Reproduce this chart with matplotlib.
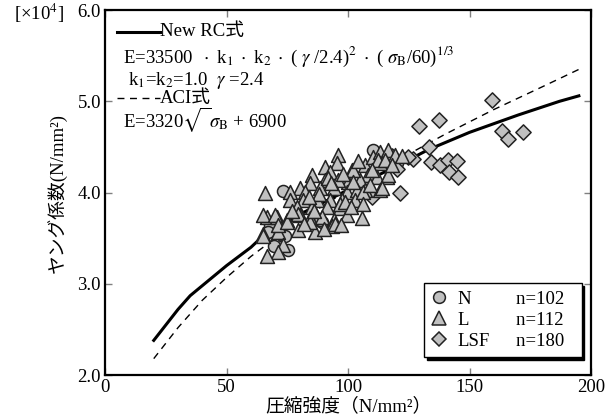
import matplotlib
matplotlib.use("Agg")
import matplotlib.pyplot as plt
from matplotlib.lines import Line2D

plt.rcParams['font.family'] = ['Liberation Serif', 'Noto Sans CJK JP']
plt.rcParams['mathtext.fontset'] = 'stix'
plt.rcParams['font.size'] = 13.5

# design curves (unit: x10^4 N/mm2)
newrc_x = [20, 30, 35, 40, 50, 60, 64, 70, 80, 100, 120, 133, 150, 170, 187, 195]
newrc_y = [2.38, 2.72, 2.87, 2.98, 3.20, 3.40, 3.50, 3.60, 3.76, 4.03, 4.29, 4.47, 4.66, 4.85, 5.00, 5.06]
aci_x = [20, 30, 40, 50, 60, 70, 80, 100, 120, 140, 160, 180, 195]
aci_y = [2.18, 2.52, 2.82, 3.07, 3.30, 3.50, 3.69, 4.03, 4.35, 4.64, 4.91, 5.16, 5.35]

# N series (circles)
n_x = [73.4, 110.4, 72.0, 67.9, 73.4, 89.2, 67.2, 74.1, 69.3, 75.4, 120.0, 88.5]
n_y = [4.02, 4.47, 3.57, 3.64, 3.52, 3.68, 3.57, 3.52, 3.41, 3.37, 4.32, 3.70]

# LSF series (diamonds)
lsf_x = [159.4, 129.2, 137.3, 133.5, 126.9, 134.0, 137.9, 141.2, 145.0, 141.4,
         145.3, 121.4, 163.5, 165.8, 171.9, 120.0, 124.7, 109.7, 118.0]
lsf_y = [5.01, 4.73, 4.79, 4.50, 4.37, 4.34, 4.30, 4.36, 4.35, 4.22,
         4.17, 4.00, 4.68, 4.59, 4.66, 4.26, 4.39, 3.95, 4.40]

# L series (triangles)
l_x = [65.8, 96.0, 95.6, 90.5, 85.1, 92.6, 101.5, 107.0, 110.4, 113.2,
       116.6, 119.3, 113.2, 108.4, 111.8, 115.9, 104.9, 100.1, 96.0, 90.5,
       84.4, 80.2, 76.1, 82.3, 88.5, 94.0, 99.5, 103.6, 107.0, 113.2,
       76.1, 81.6, 87.1, 92.6, 97.4, 102.9, 78.9, 85.1, 91.2, 96.7,
       99.5, 105.6, 66.5, 70.7, 74.8, 80.2, 84.4, 89.2, 94.0, 79.5,
       86.4, 93.3, 65.1, 71.3, 65.1, 70.0, 71.3, 74.8, 73.4, 71.3,
       66.5, 79.5, 84.4, 94.7, 96.7, 102.2, 112.5, 116.6, 106.3, 102.2,
       91.9, 98.8, 115.2, 113.9, 65.1, 122.0, 88.0, 93.0, 98.0, 104.0,
       109.0, 86.0, 82.0, 77.0, 90.0, 97.0, 101.0, 106.0, 110.0, 118.0,
       84.0]
l_y = [3.99, 4.41, 4.32, 4.28, 4.19, 4.23, 4.25, 4.30, 4.39, 4.45,
       4.47, 4.41, 4.32, 4.19, 4.17, 4.17, 4.14, 4.12, 4.14, 4.14,
       4.10, 4.05, 4.01, 4.01, 4.05, 4.05, 4.01, 4.03, 4.03, 4.03,
       3.92, 3.92, 3.92, 3.92, 3.92, 3.92, 3.84, 3.84, 3.84, 3.83,
       3.75, 3.72, 3.73, 3.73, 3.70, 3.75, 3.72, 3.73, 3.70, 3.59,
       3.57, 3.63, 3.55, 3.57, 3.75, 3.75, 3.64, 3.68, 3.42, 3.35,
       3.31, 3.77, 3.68, 3.66, 3.88, 4.25, 4.36, 4.19, 4.01, 4.12,
       4.16, 3.90, 4.36, 4.05, 3.52, 4.40, 3.98, 4.10, 4.20, 4.35,
       4.08, 3.80, 3.66, 3.80, 3.60, 3.64, 3.84, 3.88, 4.25, 4.30,
       3.95]

fig = plt.figure(figsize=(6.15, 4.2), dpi=100)
ax = fig.add_axes([0.171, 0.107, 0.790, 0.869])

gray = '#c0c0c0'
ax.plot(newrc_x, newrc_y, color='black', lw=2.2, zorder=2)
ax.plot(aci_x, aci_y, color='black', lw=1.0, ls=(0, (5, 4)), zorder=2)

ax.scatter(n_x, n_y, marker='o', s=75, c=gray, edgecolors='#222222', linewidths=1.1, zorder=3)
ax.scatter(lsf_x, lsf_y, marker='D', s=60, c=gray, edgecolors='#222222', linewidths=1.1, zorder=3)
ax.scatter(l_x, l_y, marker='^', s=100, c=gray, edgecolors='#222222', linewidths=1.1, zorder=4)

ax.set_xlim(0, 200)
ax.set_ylim(2, 6)
ax.set_xticks([0, 50, 100, 150, 200])
ax.set_yticks([2, 3, 4, 5, 6])
ax.set_yticklabels(['2.0', '3.0', '4.0', '5.0', '6.0'])
ax.tick_params(direction='in', length=5, width=1, color='gray',
               top=True, right=True, pad=3)
for sp in ax.spines.values():
    sp.set_linewidth(1.6)

# no mathtext here, so the CJK fallback works
ax.set_xlabel('圧縮強度（N/mm²）', labelpad=1)
ax.set_ylabel('ヤング係数(N/mm²)', labelpad=8)
fig.text(0.063, 0.969, '[×10$^4$]', ha='center', va='center')

# formula notes
dot = r'$\ \cdot\ $'
ax.plot([0.025, 0.113], [0.94, 0.94], transform=ax.transAxes, color='black', lw=2.2)
ax.text(0.113, 0.94, 'New RC式', transform=ax.transAxes, va='center')
ax.text(0.037, 0.871,
        'E=33500 ' + dot + 'k$_1$' + dot + 'k$_2$' + dot + r'( $\gamma$ /2.4)$^2$' + dot
        + r'( $\sigma_{\rm B}$/60)$^{1/3}$',
        transform=ax.transAxes, va='center')
ax.text(0.047, 0.808, r'k$_1$=k$_2$=1.0  $\gamma$ =2.4', transform=ax.transAxes, va='center')
ax.plot([0.025, 0.113], [0.759, 0.759], transform=ax.transAxes, color='black', lw=1.0, ls=(0, (5, 4)))
ax.text(0.113, 0.759, 'ACI式', transform=ax.transAxes, va='center')
ax.text(0.037, 0.699, r'E=3320$\sqrt{\ }$$\sigma_{\rm B}$ + 6900', transform=ax.transAxes, va='center')

# legend
mk = dict(ls='none', mfc=gray, mec='#222222', mew=1.1)
handles = [Line2D([], [], marker='o', ms=8.5, **mk),
           Line2D([], [], marker='^', ms=10, **mk),
           Line2D([], [], marker='D', ms=7.5, **mk),
           Line2D([], [], ls='none'), Line2D([], [], ls='none'), Line2D([], [], ls='none')]
labels = ['N', 'L', 'LSF', 'n=102  ', 'n=112  ', 'n=180  ']
ax.legend(handles, labels, ncol=2, loc='lower right', bbox_to_anchor=(1.0, 0.023),
          frameon=True, fancybox=False, edgecolor='black', framealpha=1,
          shadow={'color': 'black', 'alpha': 1}, handlelength=0.8, handletextpad=0.6,
          columnspacing=0.0, labelspacing=0.2, borderpad=0.4)
ax.get_legend().get_frame().set_linewidth(1.0)

fig.savefig('out.png', dpi=100)
